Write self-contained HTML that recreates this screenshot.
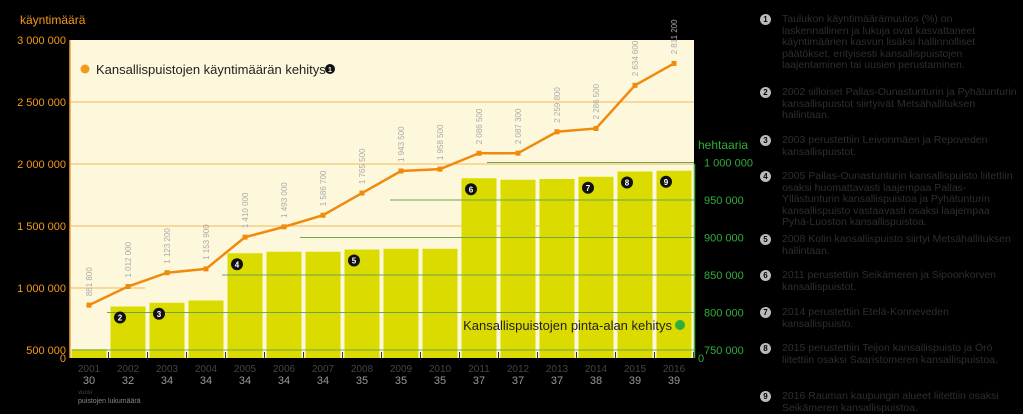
<!DOCTYPE html>
<html><head><meta charset="utf-8">
<style>
body{margin:0;background:#000;width:1023px;height:412px;overflow:hidden;font-family:"Liberation Sans",sans-serif}
#c{position:absolute;left:0;top:0}
.fn{position:absolute;left:760px;width:260px;color:#2e2e2e;font-size:10.5px;line-height:11.5px}
.fn .n{position:absolute;left:0;top:0;width:11px;height:11px;border-radius:50%;background:#bbb;color:#000;font-size:8px;font-weight:bold;text-align:center;line-height:11px}
.fn .t{margin-left:22px}
</style></head><body>
<svg id="c" width="1023" height="412"></svg>
<div>
<div class="fn" style="top:14px"><span class="n">1</span><div class="t">Taulukon käyntimäärämuutos (%) on laskennallinen ja lukuja ovat kasvattaneet käyntimäärien kasvun lisäksi hallinnolliset päätökset, erityisesti kansallispuistojen laajentaminen tai uusien perustaminen.</div></div>
<div class="fn" style="top:87px"><span class="n">2</span><div class="t">2002 silloiset Pallas-Ounastunturin ja Pyhätunturin kansallispuistot siirtyivät Metsähallituksen hallintaan.</div></div>
<div class="fn" style="top:135px"><span class="n">3</span><div class="t">2003 perustettiin Leivonmäen ja Repoveden kansallispuistot.</div></div>
<div class="fn" style="top:171px"><span class="n">4</span><div class="t">2005 Pallas-Ounastunturin kansallispuisto liitettiin osaksi huomattavasti laajempaa Pallas-Yllästunturin kansallispuistoa ja Pyhätunturin kansallispuisto vastaavasti osaksi laajempaa Pyhä-Luoston kansallispuistoa.</div></div>
<div class="fn" style="top:234px"><span class="n">5</span><div class="t">2008 Kolin kansallispuisto siirtyi Metsähallituksen hallintaan.</div></div>
<div class="fn" style="top:270px"><span class="n">6</span><div class="t">2011 perustettiin Seikämeren ja Sipoonkorven kansallispuistot.</div></div>
<div class="fn" style="top:307px"><span class="n">7</span><div class="t">2014 perustettiin Etelä-Konneveden kansallispuisto.</div></div>
<div class="fn" style="top:343px"><span class="n">8</span><div class="t">2015 perustettiin Teijon kansallispuisto ja Örö liitettiin osaksi Saaristomeren kansallispuistoa.</div></div>
<div class="fn" style="top:391px"><span class="n">9</span><div class="t">2016 Rauman kaupungin alueet liitettiin osaksi Seikämeren kansallispuistoa.</div></div>
</div>
<script>
const years=[2001,2002,2003,2004,2005,2006,2007,2008,2009,2010,2011,2012,2013,2014,2015,2016];
const parks=[30,32,34,34,34,34,34,35,35,35,37,37,37,38,39,39];
const visits=[861800,1012000,1123200,1153900,1410000,1493000,1586700,1765500,1943500,1958500,2086500,2087300,2259800,2286500,2634600,2811200];
const visitLabels=["861 800","1 012 000","1 123 200","1 153 900","1 410 000","1 493 000","1 586 700","1 765 500","1 943 500","1 958 500","2 086 500","2 087 300","2 259 800","2 286 500","2 634 600","2 811 200"];
const area=[751000,808000,813000,816000,879000,881000,881000,884000,885000,885000,979000,977000,978000,981000,988000,989000];
const notes=[null,"2","3",null,"4",null,null,"5",null,null,"6",null,null,"7","8","9"];
const leftTicks=[500000,1000000,1500000,2000000,2500000,3000000];
const leftTickLabels=["500 000","1 000 000","1 500 000","2 000 000","2 500 000","3 000 000"];
const rightTicks=[750000,800000,850000,900000,950000,1000000];
const rightTickLabels=["750 000","800 000","850 000","900 000","950 000","1 000 000"];
const svg=document.getElementById('c');
const NS='http://www.w3.org/2000/svg';
function mk(t,a,p){const e=document.createElementNS(NS,t);for(const k in a)e.setAttribute(k,a[k]);(p||svg).appendChild(e);return e;}
const yL=v=>40+(3000000-v)/500000*62;
const yR=v=>350-(v-750000)/50000*37.5;
const xC=i=>89+i*39;
let e;
e=mk('rect',{x:70,y:40,width:624,height:318,fill:'#fdf8dc'});

// orange gridlines
[1500000,2000000,2500000].forEach(v=>{e=mk('line',{x1:70,x2:694,y1:yL(v),y2:yL(v),stroke:'#f3b85a','stroke-width':1});
});
e=mk('line',{x1:70,x2:145,y1:yL(1000000),y2:yL(1000000),stroke:'#f3b85a','stroke-width':1});

// bars
years.forEach((y,i)=>{const t=yR(area[i]);e=mk('rect',{x:xC(i)-17.5,y:t,width:35,height:358-t,fill:'#dcdb00'});

e=mk('line',{x1:xC(i)+19.5,x2:xC(i)+19.5,y1:352,y2:358,stroke:'#333','stroke-width':1});
});
// green gridlines
const gStart=[72,107,222,300,390,487];
rightTicks.forEach((v,i)=>{e=mk('line',{x1:gStart[i],x2:694,y1:yR(v),y2:yR(v),stroke:'#6aa84f','stroke-width':1});
});
// note markers
notes.forEach((n,i)=>{if(!n)return;const cy=yR(area[i])+11;
e=mk('circle',{cx:xC(i)-8,cy:cy,r:6,fill:'#111'});
e=mk('text',{x:xC(i)-8,y:cy+3,'text-anchor':'middle','font-size':8,'font-weight':'bold',fill:'#fff'});e.textContent=n;
});
// line
e=mk('polyline',{points:visits.map((v,i)=>xC(i)+','+yL(v)).join(' '),fill:'none',stroke:'#f08a0c','stroke-width':2.5});

visits.forEach((v,i)=>{e=mk('rect',{x:xC(i)-2.5,y:yL(v)-2.5,width:5,height:5,fill:'#f08a0c'});

const lx=xC(i)+3,ly=yL(v)-9;
e=mk('text',{x:lx,y:ly,transform:`rotate(-90 ${lx} ${ly})`,'font-size':8,fill:'#aaa'});e.textContent=visitLabels[i];
});
// axes
e=mk('line',{x1:70,x2:70,y1:40,y2:358,stroke:'#f3a33a','stroke-width':1.5});
e=mk('line',{x1:694.5,x2:694.5,y1:164,y2:358,stroke:'#3fae3f','stroke-width':1.5});
leftTicks.forEach((v,i)=>{e=mk('text',{x:66,y:yL(v)+4,'text-anchor':'end','font-size':11,fill:'#f39a1a'});e.textContent=leftTickLabels[i];
});
e=mk('text',{x:66,y:362,'text-anchor':'end','font-size':11,fill:'#f39a1a'});e.textContent='0';
rightTicks.forEach((v,i)=>{e=mk('text',{x:704,y:yR(v)+4,'font-size':11,fill:'#2fae3a'});e.textContent=rightTickLabels[i];
});
e=mk('text',{x:698,y:362,'font-size':11,fill:'#2fae3a'});e.textContent='0';
e=mk('text',{x:20,y:24,'font-size':12,fill:'#f39a1a'});e.textContent='käyntimäärä';
e=mk('text',{x:698,y:149,'font-size':12,fill:'#2fae3a'});e.textContent='hehtaaria';
// x labels
years.forEach((y,i)=>{e=mk('text',{x:xC(i),y:372,'text-anchor':'middle','font-size':10,fill:'#444'});e.textContent=y;

e=mk('text',{x:xC(i),y:384,'text-anchor':'middle','font-size':11,fill:'#999'});e.textContent=parks[i];
});
e=mk('text',{x:78,y:394,'font-size':6,fill:'#444'});e.textContent='vuosi';
e=mk('text',{x:78,y:403,'font-size':7,fill:'#888'});e.textContent='puistojen lukumäärä';
// legends
e=mk('circle',{cx:85,cy:69,r:4.5,fill:'#f39a1a'});
e=mk('text',{x:96,y:74,'font-size':13,fill:'#222'});e.textContent='Kansallispuistojen käyntimäärän kehitys';
e=mk('circle',{cx:330,cy:69,r:5,fill:'#111'});
e=mk('text',{x:330,y:72,'text-anchor':'middle','font-size':7,'font-weight':'bold',fill:'#fff'});e.textContent='1';
e=mk('text',{x:672,y:330,'text-anchor':'end','font-size':13,fill:'#222'});e.textContent='Kansallispuistojen pinta-alan kehitys';
e=mk('circle',{cx:680,cy:325,r:5,fill:'#2fae3a'});
</script>
</body></html>
